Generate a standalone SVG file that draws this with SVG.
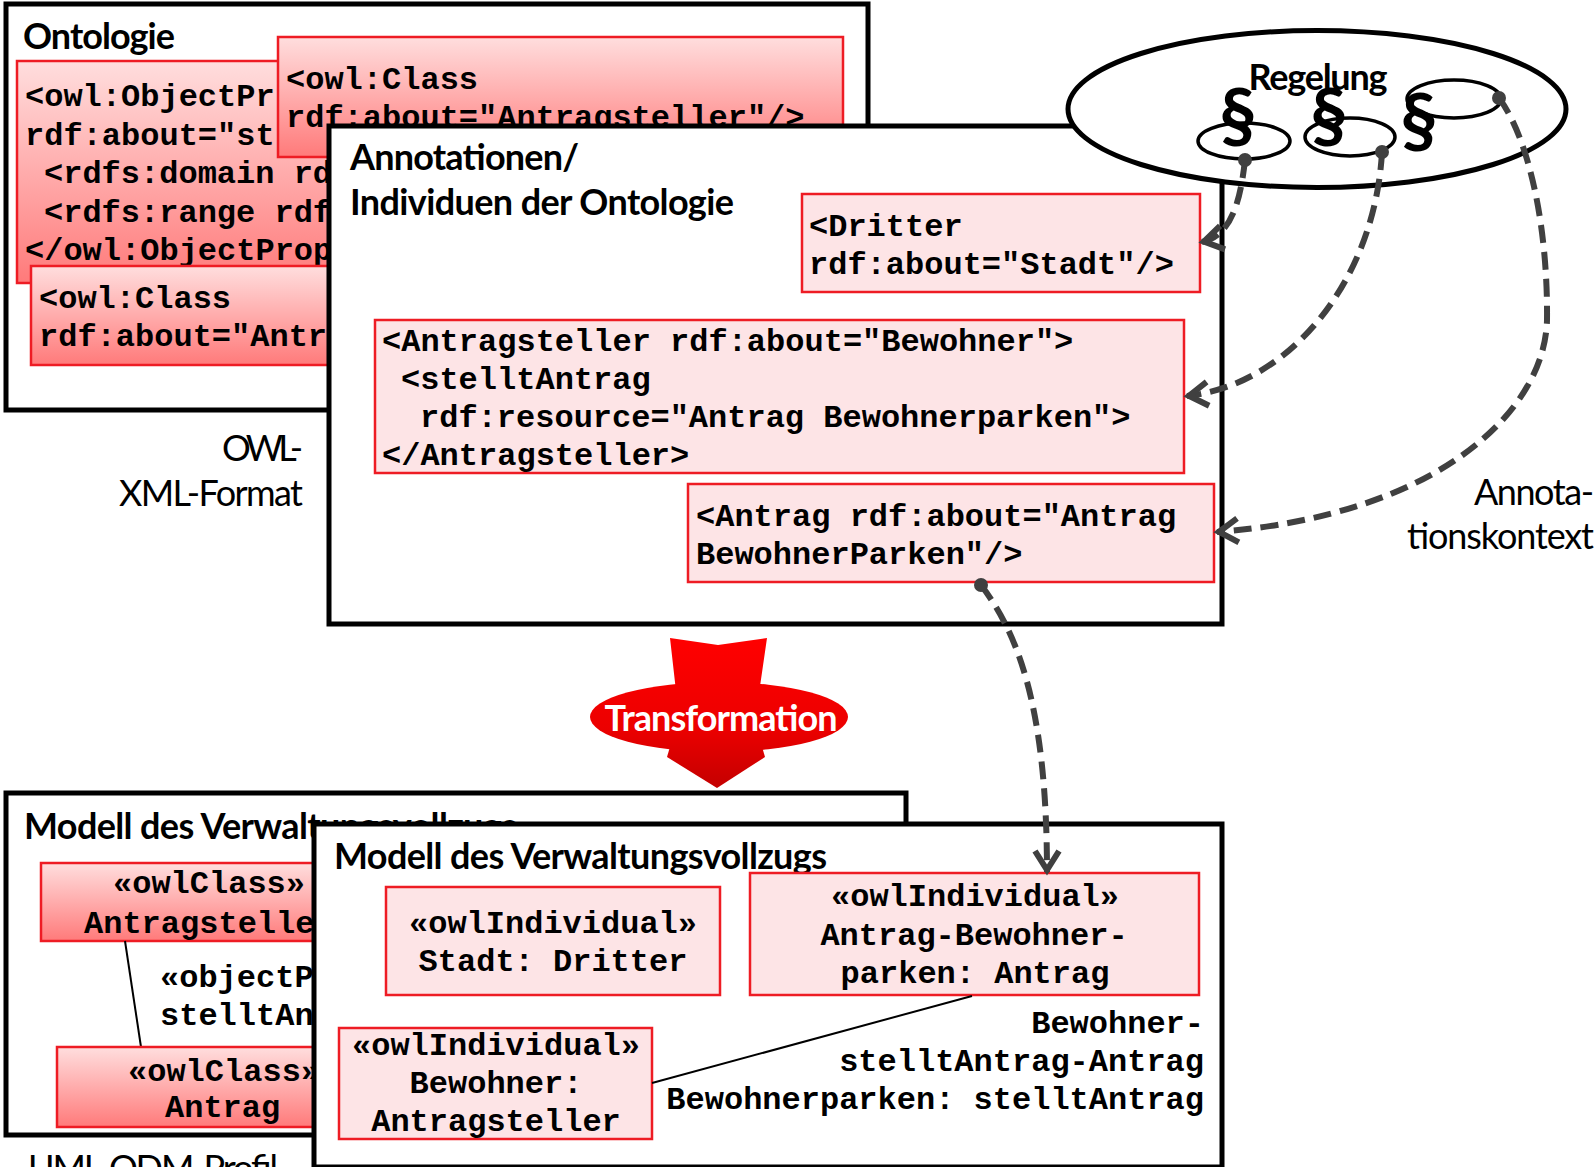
<svg xmlns="http://www.w3.org/2000/svg" width="1596" height="1167" viewBox="0 0 1596 1167">
<defs>
<linearGradient id="redgrad" x1="0" y1="0" x2="0" y2="1">
<stop offset="0" stop-color="#ffdede"/>
<stop offset="1" stop-color="#ff7a7a"/>
</linearGradient>
<linearGradient id="trgrad" gradientUnits="userSpaceOnUse" x1="0" y1="638" x2="0" y2="788">
<stop offset="0" stop-color="#ff0000"/>
<stop offset="0.6" stop-color="#ec0000"/>
<stop offset="1" stop-color="#c40000"/>
</linearGradient>
<marker id="arrow" markerUnits="userSpaceOnUse" markerWidth="40" markerHeight="40" viewBox="-30 -20 40 40" refX="0" refY="0" orient="auto" overflow="visible">
<path d="M -21 -12 L -2 0 L -21 12" fill="none" stroke="#404040" stroke-width="6"/>
</marker>
</defs>
<style>
.frame{fill:#fff;stroke:#000;stroke-width:5}
.grad{fill:url(#redgrad);stroke:#ee1c24;stroke-width:2.5}
.pink{fill:#fde4e6;stroke:#ee1c24;stroke-width:2.5}
.mono{font-family:"Liberation Mono","Courier New",monospace;font-weight:bold;font-size:32px;fill:#000}
.mid{text-anchor:middle}
.end{text-anchor:end}
.title{font-family:Lato,"Open Sans",sans-serif;font-weight:bold;font-size:36px;fill:#000}
.label{font-family:Lato,"Open Sans",sans-serif;font-size:36px;fill:#000}
.para{font-family:Lato,"Open Sans",sans-serif;font-weight:bold;font-size:74px;fill:#000;text-anchor:middle}
.loop{fill:none;stroke:#000;stroke-width:3.5}
.conn{fill:none;stroke:#404040;stroke-width:6;stroke-dasharray:18 9}
.dot{fill:#404040}
.thin{stroke:#000;stroke-width:2;fill:none}
</style>

<g id="ontologie">
<rect class="frame" x="6" y="4" width="862" height="406"/>
<text class="title" x="23" y="49" textLength="152">Ontologie</text>
<g id="objectproperty">
<rect class="grad" x="17" y="61" width="560" height="222"/>
<text class="mono" x="25" y="106">&lt;owl:ObjectPr</text>
<text class="mono" x="25" y="145">rdf:about="st</text>
<text class="mono" x="44" y="183">&lt;rdfs:domain rd</text>
<text class="mono" x="44" y="222">&lt;rdfs:range rdf</text>
<text class="mono" x="25" y="260">&lt;/owl:ObjectProp</text>
</g>
<g id="class-antragsteller">
<rect class="grad" x="278" y="37" width="565" height="120"/>
<text class="mono" x="286" y="89">&lt;owl:Class</text>
<text class="mono" x="286" y="127">rdf:about="Antragsteller"/&gt;</text>
</g>
<g id="class-antrag">
<rect class="grad" x="31" y="266" width="560" height="99"/>
<text class="mono" x="39" y="308">&lt;owl:Class</text>
<text class="mono" x="39" y="346">rdf:about="Antr</text>
</g>
</g>

<g id="annotationen">
<rect class="frame" x="329" y="126" width="893" height="498"/>
<text class="title" x="350" y="170" textLength="229">Annotationen/</text>
<text class="title" x="350" y="215" textLength="384">Individuen der Ontologie</text>
<g id="ind-dritter">
<rect class="pink" x="802" y="194" width="398" height="98"/>
<text class="mono" x="809" y="236">&lt;Dritter</text>
<text class="mono" x="809" y="274">rdf:about="Stadt"/&gt;</text>
</g>
<g id="ind-antragsteller">
<rect class="pink" x="375" y="320" width="809" height="153"/>
<text class="mono" x="382" y="351">&lt;Antragsteller rdf:about="Bewohner"&gt;</text>
<text class="mono" x="401" y="389">&lt;stelltAntrag</text>
<text class="mono" x="420" y="427">rdf:resource="Antrag Bewohnerparken"&gt;</text>
<text class="mono" x="382" y="465">&lt;/Antragsteller&gt;</text>
</g>
<g id="ind-antrag">
<rect class="pink" x="688" y="484" width="526" height="98"/>
<text class="mono" x="696" y="526">&lt;Antrag rdf:about="Antrag</text>
<text class="mono" x="696" y="564">BewohnerParken"/&gt;</text>
</g>
</g>

<g id="regelung">
<ellipse cx="1317" cy="109" rx="249" ry="78.5" fill="#fff" stroke="#000" stroke-width="5"/>
<text class="title mid" x="1318" y="90" textLength="139">Regelung</text>
<text class="para" x="1238" y="142">§</text>
<text class="para" x="1329" y="142">§</text>
<text class="para" x="1419" y="147">§</text>
<ellipse class="loop" cx="1244" cy="141" rx="46" ry="18"/>
<ellipse class="loop" cx="1350" cy="137" rx="45" ry="19"/>
<ellipse class="loop" cx="1454" cy="99" rx="47" ry="19"/>
</g>

<g id="transformation">
<polygon points="670,638 718,645 767,638 758,700 677,700" fill="url(#trgrad)"/>
<polygon points="667,757 717,788 765,757 760,740 672,740" fill="url(#trgrad)"/>
<ellipse cx="719" cy="717" rx="129" ry="35" fill="url(#trgrad)"/>
<text class="title mid" x="721" y="731" textLength="233" style="fill:#fff">Transformation</text>
</g>

<g id="modell-profil">
<rect class="frame" x="6" y="793" width="900" height="342"/>
<text class="title" x="24" y="839" textLength="493">Modell des Verwaltungsvollzugs</text>
<g id="owlclass-antragsteller">
<rect class="grad" x="41" y="863" width="336" height="78"/>
<text class="mono mid" x="209" y="893">«owlClass»</text>
<text class="mono" x="84" y="933">Antragstelle</text>
</g>
<line class="thin" x1="125" y1="941" x2="141" y2="1047"/>
<text class="mono" x="160" y="987">«objectP</text>
<text class="mono" x="160" y="1025">stelltAn</text>
<g id="owlclass-antrag">
<rect class="grad" x="57" y="1047" width="332" height="80"/>
<text class="mono" x="128" y="1081">«owlClass»</text>
<text class="mono" x="165" y="1117">Antrag</text>
</g>
</g>

<g id="modell-individuen">
<rect class="frame" x="314" y="824" width="908" height="343"/>
<text class="title" x="334" y="869" textLength="493">Modell des Verwaltungsvollzugs</text>
<g id="owlind-stadt">
<rect class="pink" x="386" y="887" width="334" height="108"/>
<text class="mono mid" x="553" y="933">«owlIndividual»</text>
<text class="mono mid" x="553" y="971">Stadt: Dritter</text>
</g>
<g id="owlind-antrag">
<rect class="pink" x="750" y="873" width="449" height="122"/>
<text class="mono mid" x="975" y="906">«owlIndividual»</text>
<text class="mono mid" x="974" y="945">Antrag-Bewohner-</text>
<text class="mono mid" x="975" y="983">parken: Antrag</text>
</g>
<g id="owlind-bewohner">
<rect class="pink" x="339" y="1028" width="313" height="111"/>
<text class="mono mid" x="496" y="1055">«owlIndividual»</text>
<text class="mono mid" x="496" y="1093">Bewohner:</text>
<text class="mono mid" x="496" y="1131">Antragsteller</text>
</g>
<line class="thin" x1="652" y1="1083" x2="972" y2="996"/>
<text class="mono end" x="1204" y="1033">Bewohner-</text>
<text class="mono end" x="1204" y="1071">stelltAntrag-Antrag</text>
<text class="mono end" x="1204" y="1109">Bewohnerparken: stelltAntrag</text>
</g>

<g id="labels">
<text class="label end" x="303" y="461" textLength="81">OWL-</text>
<text class="label end" x="303" y="506" textLength="184">XML-Format</text>
<text class="label end" x="1594" y="505" textLength="120">Annota-</text>
<text class="label end" x="1594" y="549" textLength="187">tionskontext</text>
<text class="label" x="28" y="1181" textLength="250">UML-ODM-Profil</text>
</g>

<g id="connectors">
<path class="conn" d="M 1245 160 C 1240 205, 1230 236, 1202 242" marker-end="url(#arrow)"/>
<path class="conn" d="M 1382 152 C 1375 280, 1290 385, 1187 396" marker-end="url(#arrow)"/>
<path class="conn" d="M 1499 98 C 1530 140, 1548 230, 1547 320 C 1545 410, 1440 515, 1217 532" marker-end="url(#arrow)"/>
<path class="conn" d="M 981 585 C 1015 630, 1047 700, 1047 872" marker-end="url(#arrow)"/>
<circle class="dot" cx="1245" cy="160" r="7"/>
<circle class="dot" cx="1382" cy="152" r="7"/>
<circle class="dot" cx="1499" cy="98" r="7"/>
<circle class="dot" cx="981" cy="585" r="7"/>
</g>
</svg>
